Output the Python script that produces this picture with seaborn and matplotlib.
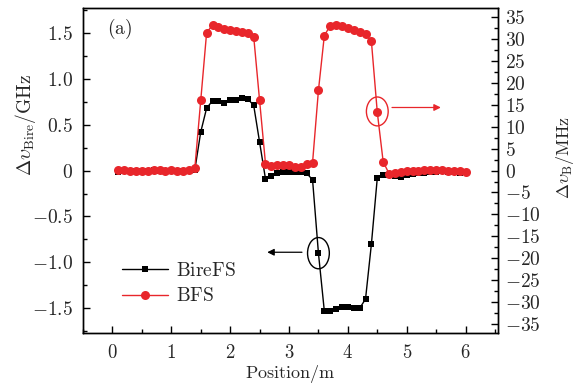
import numpy as np
import pandas as pd
import matplotlib
matplotlib.use("Agg")
import matplotlib.pyplot as plt
import seaborn as sns
from matplotlib.patches import Ellipse
from matplotlib.ticker import MultipleLocator, FuncFormatter

# ---------------- data ----------------
position = [0.1, 0.2, 0.3, 0.4, 0.5, 0.6, 0.7, 0.8, 0.9, 1.0,
            1.1, 1.2, 1.3, 1.4, 1.5, 1.6, 1.7, 1.8, 1.9, 2.0,
            2.1, 2.2, 2.3, 2.4, 2.5, 2.6, 2.7, 2.8, 2.9, 3.0,
            3.1, 3.2, 3.3, 3.4, 3.5, 3.6, 3.7, 3.8, 3.9, 4.0,
            4.1, 4.2, 4.3, 4.4, 4.5, 4.6, 4.7, 4.8, 4.9, 5.0,
            5.1, 5.2, 5.3, 5.4, 5.5, 5.6, 5.7, 5.8, 5.9, 6.0]

bire_ghz = [-0.02, 0.00, 0.00, 0.00, 0.00, 0.00, 0.01, 0.00, 0.00, 0.00,
            -0.01, -0.01, 0.00, 0.01, 0.42, 0.68, 0.76, 0.76, 0.74, 0.77,
            0.77, 0.79, 0.78, 0.71, 0.31, -0.09, -0.06, -0.03, -0.02, -0.02,
            -0.02, -0.02, -0.03, -0.10, -0.90, -1.53, -1.53, -1.51, -1.49, -1.49,
            -1.50, -1.50, -1.40, -0.80, -0.08, -0.05, -0.05, -0.06, -0.07, -0.05,
            -0.04, -0.03, -0.03, -0.02, -0.02, -0.01, -0.02, -0.02, -0.03, -0.02]

bfs_mhz = [0.2, 0.1, 0.0, 0.0, 0.0, 0.0, 0.1, 0.1, 0.0, 0.1,
           0.0, 0.0, 0.2, 0.6, 16.0, 31.5, 33.2, 32.8, 32.4, 32.1,
           31.8, 31.6, 31.5, 30.6, 16.0, 1.6, 1.0, 1.3, 1.3, 1.2,
           0.8, 0.7, 1.4, 1.8, 18.3, 30.8, 33.1, 33.3, 32.9, 32.5,
           32.1, 31.7, 31.2, 29.5, 13.3, 2.0, -0.7, -0.5, -0.4, -0.2,
           -0.1, 0.0, 0.1, 0.2, 0.2, 0.1, 0.0, -0.1, -0.2, -0.3]

labels = ["BireFS", "BFS"]

df = pd.DataFrame({"pos": position, "bire": bire_ghz, "bfs": bfs_mhz})

# ---------------- style ----------------
sns.set_theme(style="ticks")
plt.rcParams["font.family"] = ["DejaVu Serif"]
plt.rcParams["mathtext.fontset"] = "cm"
plt.rcParams["xtick.direction"] = "in"
plt.rcParams["ytick.direction"] = "in"
plt.rcParams["axes.linewidth"] = 1.0

RED = "#e8262b"
FS = 14

fig = plt.figure(figsize=(5.79, 3.85), dpi=100)
ax = fig.add_axes([0.1434, 0.135, 0.7166, 0.844])
ax2 = ax.twinx()

sns.lineplot(data=df, x="pos", y="bire", ax=ax, color="black", marker="s",
             markersize=5, linewidth=1.0, markeredgewidth=0, label=labels[0])
sns.lineplot(data=df, x="pos", y="bfs", ax=ax2, color=RED, marker="o",
             markersize=6.5, linewidth=1.0, markeredgewidth=0, label=labels[1])

ax.set_xlim(-0.5, 6.55)
ax.set_ylim(-1.77, 1.77)
ax2.set_ylim(-37.1, 37.1)

for a in (ax, ax2):
    for s in a.spines.values():
        s.set_visible(True)
        s.set_linewidth(1.0)
        s.set_color("black")

ax.xaxis.set_major_locator(MultipleLocator(1))
ax.xaxis.set_minor_locator(MultipleLocator(0.5))
ax.yaxis.set_major_locator(MultipleLocator(0.5))
ax.yaxis.set_minor_locator(MultipleLocator(0.25))
ax2.yaxis.set_major_locator(MultipleLocator(5))
ax2.yaxis.set_minor_locator(MultipleLocator(2.5))

ax.xaxis.set_major_formatter(FuncFormatter(lambda v, p: r"$%d$" % int(round(v))))
ax.yaxis.set_major_formatter(FuncFormatter(
    lambda v, p: r"$0$" if abs(v) < 1e-9 else r"$%.1f$" % v))
ax2.yaxis.set_major_formatter(FuncFormatter(lambda v, p: r"$%d$" % int(round(v))))

ax.tick_params(axis="x", which="major", length=5, width=1.0, labelsize=FS - 0.5,
               top=False, color="black", pad=8)
ax.tick_params(axis="y", which="major", length=5, width=1.0, labelsize=FS,
               right=False, color="black", pad=7)
ax.tick_params(axis="both", which="minor", length=3, width=1.0,
               top=False, right=False, color="black")
ax2.tick_params(axis="y", which="major", length=5, width=1.0, labelsize=FS,
                color="black", pad=5)
ax2.tick_params(axis="y", which="minor", length=3, width=1.0, color="black")

ax.set_xlabel(r"$\mathrm{Position/m}$", fontsize=13)
ax.set_ylabel(r"$\Delta\upsilon_{\mathrm{Bire}}/\mathrm{GHz}$", fontsize=FS)
ax2.set_ylabel(r"$\Delta\upsilon_{\mathrm{B}}/\mathrm{MHz}$", fontsize=13)
ax.xaxis.set_label_coords(0.5, -0.091)
ax.yaxis.set_label_coords(-0.108, 0.64)
ax2.yaxis.set_label_coords(1.136, 0.54)

# annotations
ax.add_patch(Ellipse((3.5, -0.9), width=0.37, height=0.34, fill=False,
                     edgecolor="black", lw=1.0, zorder=5))
ax.annotate("", xy=(2.63, -0.89), xytext=(3.22, -0.89),
            arrowprops=dict(arrowstyle="-|>", color="black", lw=0.9,
                            mutation_scale=10, shrinkA=0, shrinkB=0))
ax2.add_patch(Ellipse((4.5, 13.5), width=0.37, height=6.6, fill=False,
                      edgecolor=RED, lw=1.0, zorder=5))
ax2.annotate("", xy=(5.58, 14.4), xytext=(4.75, 14.4),
             arrowprops=dict(arrowstyle="-|>", color=RED, lw=0.9,
                             mutation_scale=10, shrinkA=0, shrinkB=0))

ax.text(0.058, 0.935, r"$\mathrm{(a)}$", transform=ax.transAxes, fontsize=FS,
        va="center", ha="left")

# legend
h1, l1 = ax.get_legend_handles_labels()
h2, l2 = ax2.get_legend_handles_labels()
if ax.get_legend() is not None:
    ax.get_legend().remove()
if ax2.get_legend() is not None:
    ax2.get_legend().remove()
leg = ax2.legend(h1 + h2, [r"$\mathrm{%s}$" % t for t in labels], loc="upper left",
                 bbox_to_anchor=(0.094, 0.22), frameon=False, fontsize=FS,
                 handlelength=2.37, handletextpad=0.4, labelspacing=0.4,
                 borderaxespad=0, borderpad=0)

fig.savefig("out.png", dpi=100)
